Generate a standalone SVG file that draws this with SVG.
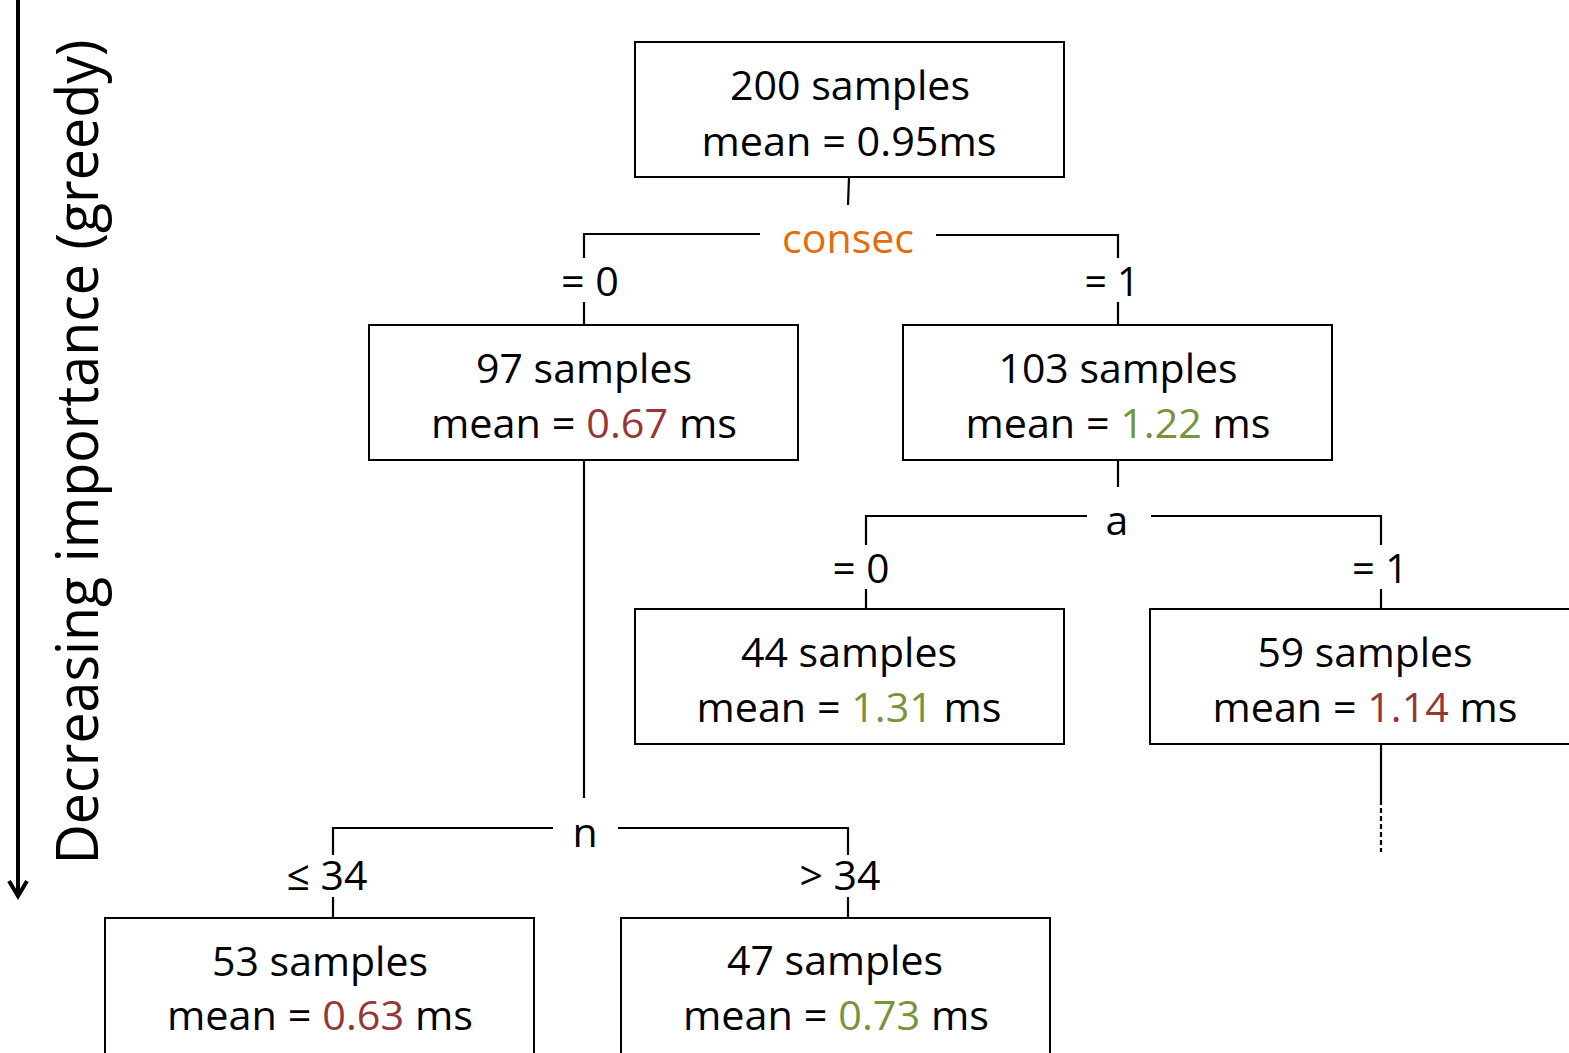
<svg xmlns="http://www.w3.org/2000/svg" width="1569" height="1053" viewBox="0 0 1569 1053">
<style>
.box{fill:#fff;stroke:#000;stroke-width:2}
.ln{stroke:#000;stroke-width:2.2;fill:none}
text{font-family:"Open Sans","Noto Sans",sans-serif;font-size:41px;fill:#000;text-anchor:middle}
text.axis{font-size:58px}
.red{fill:#953735}
.grn{fill:#77933C}
.org{fill:#E46C0A}
</style>
<g id="axis">
<line x1="18" y1="0" x2="18" y2="896" stroke="#000" stroke-width="4"/>
<path d="M9,881 L18,896 L27,881" fill="none" stroke="#000" stroke-width="4"/>
<text class="axis" transform="translate(98,452) rotate(-90)" textLength="825" lengthAdjust="spacingAndGlyphs">Decreasing importance (greedy)</text>
</g>
<g id="connectors">
<line class="ln" x1="849" y1="177" x2="848" y2="205"/>
<polyline class="ln" points="760,234 584,234 584,258"/>
<line class="ln" x1="584" y1="302" x2="584" y2="325"/>
<polyline class="ln" points="936,235 1118,235 1118,258"/>
<line class="ln" x1="1118" y1="302" x2="1118" y2="325"/>
<line class="ln" x1="584" y1="460" x2="584" y2="798"/>
<line class="ln" x1="1118" y1="460" x2="1118" y2="487"/>
<polyline class="ln" points="1087,516 866,516 866,545"/>
<line class="ln" x1="866" y1="589" x2="866" y2="609"/>
<polyline class="ln" points="1151,516 1381,516 1381,545"/>
<line class="ln" x1="1381" y1="589" x2="1381" y2="609"/>
<polyline class="ln" points="553,828 333,828 333,855"/>
<line class="ln" x1="333" y1="897" x2="333" y2="918"/>
<polyline class="ln" points="618,828 848,828 848,855"/>
<line class="ln" x1="848" y1="897" x2="848" y2="918"/>
<line class="ln" x1="1381" y1="744" x2="1381" y2="800"/>
<line class="ln" x1="1381" y1="800" x2="1381" y2="852" stroke-dasharray="5,3"/>
</g>
<g id="split-consec"><text class="org" x="848" y="253" textLength="132" lengthAdjust="spacingAndGlyphs">consec</text></g>
<g id="label-c0"><text x="590" y="296" textLength="58" lengthAdjust="spacingAndGlyphs">= 0</text></g>
<g id="label-c1"><text x="1112" y="296" textLength="55" lengthAdjust="spacingAndGlyphs">= 1</text></g>
<g id="split-a"><text x="1117" y="535">a</text></g>
<g id="label-a0"><text x="861" y="583" textLength="57" lengthAdjust="spacingAndGlyphs">= 0</text></g>
<g id="label-a1"><text x="1380" y="583" textLength="56" lengthAdjust="spacingAndGlyphs">= 1</text></g>
<g id="split-n"><text x="585" y="847">n</text></g>
<g id="label-n0"><text x="327" y="890" textLength="81" lengthAdjust="spacingAndGlyphs">≤ 34</text></g>
<g id="label-n1"><text x="840" y="890" textLength="81" lengthAdjust="spacingAndGlyphs">&gt; 34</text></g>
<g id="node-root">
<rect class="box" x="635" y="42" width="429" height="135"/>
<text x="850" y="100" textLength="240" lengthAdjust="spacingAndGlyphs">200 samples</text>
<text x="849" y="156" textLength="295" lengthAdjust="spacingAndGlyphs">mean = 0.95ms</text>
</g>
<g id="node-97">
<rect class="box" x="369" y="325" width="429" height="135"/>
<text x="584" y="383" textLength="216" lengthAdjust="spacingAndGlyphs">97 samples</text>
<text x="584" y="438" textLength="306" lengthAdjust="spacingAndGlyphs">mean = <tspan class="red">0.67</tspan> ms</text>
</g>
<g id="node-103">
<rect class="box" x="903" y="325" width="429" height="135"/>
<text x="1118" y="383" textLength="239" lengthAdjust="spacingAndGlyphs">103 samples</text>
<text x="1118" y="438" textLength="305" lengthAdjust="spacingAndGlyphs">mean = <tspan class="grn">1.22</tspan> ms</text>
</g>
<g id="node-44">
<rect class="box" x="635" y="609" width="429" height="135"/>
<text x="849" y="667" textLength="216" lengthAdjust="spacingAndGlyphs">44 samples</text>
<text x="849" y="722" textLength="305" lengthAdjust="spacingAndGlyphs">mean = <tspan class="grn">1.31</tspan> ms</text>
</g>
<g id="node-59">
<rect class="box" x="1150" y="609" width="440" height="135"/>
<text x="1365" y="667" textLength="215" lengthAdjust="spacingAndGlyphs">59 samples</text>
<text x="1365" y="722" textLength="305" lengthAdjust="spacingAndGlyphs">mean = <tspan class="red">1.14</tspan> ms</text>
</g>
<g id="node-53">
<rect class="box" x="105" y="918" width="429" height="150"/>
<text x="320" y="976" textLength="216" lengthAdjust="spacingAndGlyphs">53 samples</text>
<text x="320" y="1030" textLength="306" lengthAdjust="spacingAndGlyphs">mean = <tspan class="red">0.63</tspan> ms</text>
</g>
<g id="node-47">
<rect class="box" x="621" y="918" width="429" height="150"/>
<text x="835" y="975" textLength="216" lengthAdjust="spacingAndGlyphs">47 samples</text>
<text x="836" y="1030" textLength="306" lengthAdjust="spacingAndGlyphs">mean = <tspan class="grn">0.73</tspan> ms</text>
</g>
</svg>
